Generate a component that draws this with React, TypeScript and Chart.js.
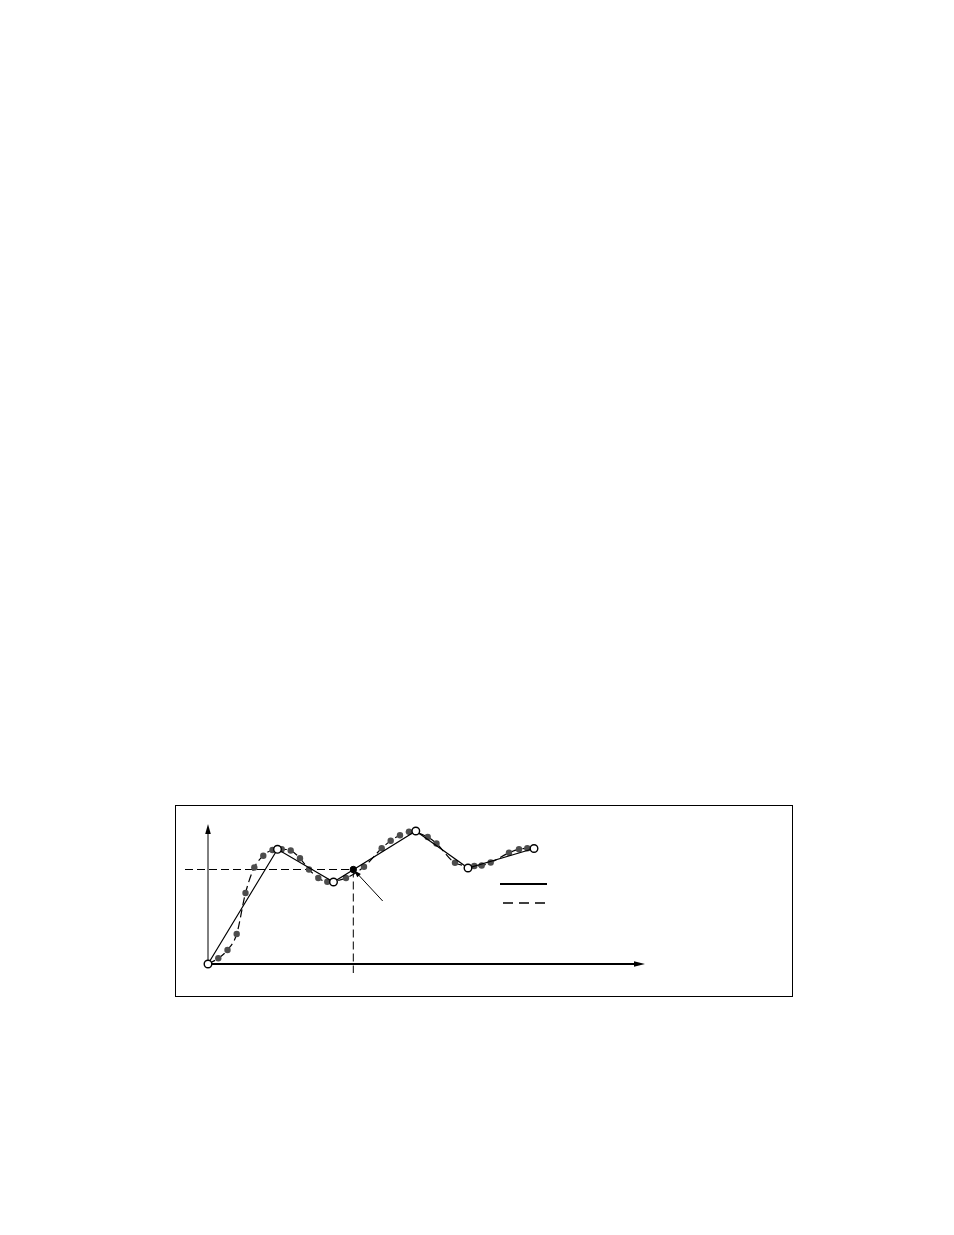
import { useEffect, useRef } from "react";
import { Chart, registerables } from "chart.js";

Chart.register(...registerables);

// Piecewise-linear (solid) approximation vertices
const solidX = [0, 6.95, 12.55, 20.78, 26.0, 32.6];
const solidY = [0, 11.47, 8.2, 13.3, 9.6, 11.55];

// Measured samples (grey dots) along the dashed curve
const dotX = [1.03, 1.95, 2.87, 3.75, 4.63, 5.53, 6.45, 7.37, 8.27, 9.2, 10.1, 11.03, 11.93, 13.8, 15.6, 17.37, 18.27, 19.2, 20.1, 21.97, 22.85, 24.7, 26.63, 27.37, 28.27, 30.1, 31.1, 31.93];
const dotY = [0.57, 1.4, 3.0, 7.1, 9.65, 10.83, 11.4, 11.47, 11.35, 10.57, 9.45, 8.6, 8.23, 8.6, 9.73, 11.57, 12.33, 12.87, 13.23, 12.7, 12.05, 10.13, 9.8, 9.85, 10.15, 11.12, 11.47, 11.57];

// Highlighted reference point
const markX = [14.53];
const markY = [9.45];

// Axis ranges
const xRange = [-2.3, 43.7];
const yRange = [-0.9, 14.2];

const pts = (xs: number[], ys: number[]) => xs.map((x, i) => ({ x, y: ys[i] }));

function arrowHead(ctx: CanvasRenderingContext2D, x1: number, y1: number, x2: number, y2: number, len: number, half: number) {
  const a = Math.atan2(y2 - y1, x2 - x1);
  ctx.beginPath();
  ctx.moveTo(x2, y2);
  ctx.lineTo(x2 - len * Math.cos(a) + half * Math.sin(a), y2 - len * Math.sin(a) - half * Math.cos(a));
  ctx.lineTo(x2 - len * Math.cos(a) - half * Math.sin(a), y2 - len * Math.sin(a) + half * Math.cos(a));
  ctx.closePath();
  ctx.fill();
}

const overlay = {
  id: "overlay",
  beforeDatasetsDraw(chart: any) {
    const { ctx, scales } = chart;
    const xs = scales.x;
    const ys = scales.y;
    const X = (v: number) => xs.getPixelForValue(v);
    const Y = (v: number) => ys.getPixelForValue(v);
    ctx.save();
    ctx.strokeStyle = "#000";
    ctx.fillStyle = "#000";
    // reference dashed lines
    ctx.lineWidth = 1;
    ctx.setLineDash([8, 4]);
    ctx.beginPath();
    ctx.moveTo(X(xRange[0]), Y(markY[0]));
    ctx.lineTo(X(markX[0]), Y(markY[0]));
    ctx.moveTo(X(markX[0]), Y(markY[0]));
    ctx.lineTo(X(markX[0]), Y(yRange[0]));
    ctx.stroke();
    ctx.setLineDash([]);
    // y axis
    ctx.lineWidth = 1;
    ctx.beginPath();
    ctx.moveTo(X(0), Y(0));
    ctx.lineTo(X(0), Y(yRange[1]) + 8);
    ctx.stroke();
    arrowHead(ctx, X(0), Y(0), X(0), Y(yRange[1]) + 2, 10, 2.8);
    // x axis
    ctx.lineWidth = 2;
    ctx.beginPath();
    ctx.moveTo(X(0), Y(0));
    ctx.lineTo(X(xRange[1]) - 8, Y(0));
    ctx.stroke();
    arrowHead(ctx, X(0), Y(0), X(xRange[1]), Y(0), 11, 2.8);
    ctx.restore();
  },
  afterDatasetsDraw(chart: any) {
    const { ctx, scales } = chart;
    const X = (v: number) => scales.x.getPixelForValue(v);
    const Y = (v: number) => scales.y.getPixelForValue(v);
    ctx.save();
    ctx.strokeStyle = "#000";
    ctx.fillStyle = "#000";
    // pointer line to the highlighted point
    const px = X(markX[0]);
    const py = Y(markY[0]);
    const ex = X(17.47);
    const ey = Y(6.3);
    ctx.lineWidth = 1;
    ctx.beginPath();
    ctx.moveTo(ex, ey);
    ctx.lineTo(px + 2, py + 2);
    ctx.stroke();
    arrowHead(ctx, ex, ey, px + 1, py + 1, 7, 2.5);
    // legend samples
    ctx.lineWidth = 2;
    ctx.beginPath();
    ctx.moveTo(X(29.2), Y(8.0));
    ctx.lineTo(X(33.9), Y(8.0));
    ctx.stroke();
    ctx.lineWidth = 1.3;
    ctx.setLineDash([10, 6]);
    ctx.beginPath();
    ctx.moveTo(X(29.5), Y(6.1));
    ctx.lineTo(X(33.9), Y(6.1));
    ctx.stroke();
    ctx.restore();
  },
};

export default function App() {
  const ref = useRef<HTMLCanvasElement | null>(null);
  useEffect(() => {
    if (!ref.current) return;
    const chart = new Chart(ref.current, {
      type: "scatter",
      data: {
        datasets: [
          {
            label: "mark",
            data: pts(markX, markY),
            pointRadius: 3.2,
            pointBackgroundColor: "#000",
            pointBorderColor: "#000",
            showLine: false,
            order: 0,
            clip: false,
          },
          {
            label: "vertices",
            data: pts(solidX, solidY),
            pointRadius: 3.8,
            pointBackgroundColor: "#fff",
            pointBorderColor: "#000",
            pointBorderWidth: 1.4,
            showLine: false,
            order: 1,
            clip: false,
          },
          {
            label: "solid",
            data: pts(solidX, solidY),
            showLine: true,
            borderColor: "#000",
            borderWidth: 1.2,
            pointRadius: 0,
            tension: 0,
            order: 2,
            clip: false,
          },
          {
            label: "dots",
            data: pts(dotX, dotY),
            pointRadius: 3.2,
            pointBackgroundColor: "#4d4d4d",
            pointBorderColor: "#4d4d4d",
            pointBorderWidth: 0,
            showLine: false,
            order: 3,
            clip: false,
          },
          {
            label: "dashed",
            data: pts([solidX[0], ...dotX, solidX[solidX.length - 1]], [solidY[0], ...dotY, solidY[solidY.length - 1]]),
            showLine: true,
            borderColor: "#000",
            borderWidth: 1.2,
            borderDash: [8, 4],
            pointRadius: 0,
            cubicInterpolationMode: "monotone",
            order: 4,
            clip: false,
          },
        ],
      },
      options: {
        animation: false,
        responsive: false,
        devicePixelRatio: 1,
        layout: { padding: { left: 9, right: 147, top: 16, bottom: 23 } },
        plugins: { legend: { display: false }, tooltip: { enabled: false } },
        scales: {
          x: { type: "linear", min: xRange[0], max: xRange[1], display: false },
          y: { type: "linear", min: yRange[0], max: yRange[1], display: false },
        },
      },
      plugins: [overlay],
    } as any);
    return () => chart.destroy();
  }, []);
  return (
    <div
      style={{
        position: "absolute",
        left: 175,
        top: 805,
        width: 618,
        height: 192,
        boxSizing: "border-box",
        border: "1px solid #000",
        background: "#fff",
      }}
    >
      <canvas ref={ref} width={616} height={190} style={{ display: "block", width: 616, height: 190 }} />
    </div>
  );
}
